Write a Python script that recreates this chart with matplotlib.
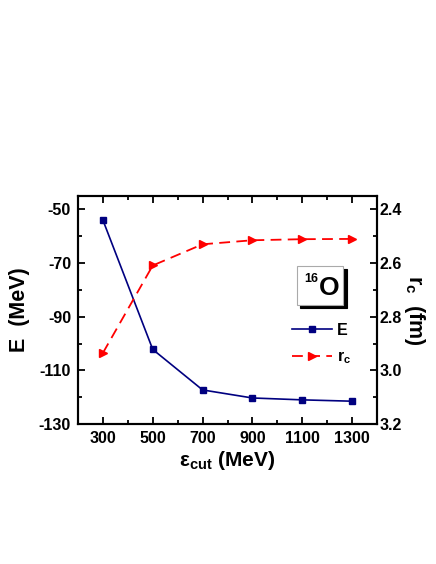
import matplotlib
matplotlib.use("Agg")
import matplotlib.pyplot as plt
from matplotlib.patches import Rectangle
from matplotlib.ticker import MultipleLocator, FormatStrFormatter

# data
ecut = [300, 500, 700, 900, 1100, 1300]
energy = [-54.0, -102.2, -117.3, -120.3, -121.0, -121.5]
rc = [2.935, 2.609, 2.530, 2.515, 2.511, 2.510]

plt.rcParams['font.family'] = ['Liberation Sans', 'DejaVu Sans']
plt.rcParams['font.weight'] = 'bold'
plt.rcParams['axes.unicode_minus'] = False
plt.rcParams['mathtext.fontset'] = 'custom'
plt.rcParams['mathtext.rm'] = 'Liberation Sans:bold'
plt.rcParams['mathtext.it'] = 'Liberation Sans:bold'
plt.rcParams['mathtext.bf'] = 'Liberation Sans:bold'
plt.rcParams['mathtext.sf'] = 'Liberation Sans:bold'

fig = plt.figure(figsize=(4.36, 5.64), dpi=100)
ax = fig.add_axes([78 / 436, 140 / 564, 299 / 436, 228 / 564])
ax2 = ax.twinx()

l1, = ax.plot(ecut, energy, color='#000080', marker='s', ms=4.5, lw=1.2, label='E')
l2, = ax2.plot(ecut, rc, color='#ff0000', marker='>', ms=5.5, lw=1.3,
               dashes=(6, 3.5), label=r'$r_c$')

ax.set_xlim(200, 1400)
ax.set_ylim(-130, -45)
ax2.set_ylim(3.2, 2.35)

ax.xaxis.set_minor_locator(MultipleLocator(100))
ax.set_xticks([300, 500, 700, 900, 1100, 1300])
ax.set_yticks([-130, -110, -90, -70, -50])
ax.yaxis.set_minor_locator(MultipleLocator(10))
ax2.set_yticks([2.4, 2.6, 2.8, 3.0, 3.2])
ax2.yaxis.set_minor_locator(MultipleLocator(0.1))
ax2.yaxis.set_major_formatter(FormatStrFormatter('%.1f'))

for a in (ax, ax2):
    for s in a.spines.values():
        s.set_linewidth(1.5)
ax.tick_params(axis='both', which='major', direction='in', length=5, width=1.3,
               labelsize=11.5, top=True, right=False, pad=5)
ax.tick_params(axis='both', which='minor', direction='in', length=3, width=1.3,
               top=True, right=False)
ax2.tick_params(axis='y', which='major', direction='in', length=5, width=1.3,
                labelsize=11.5, pad=2)
ax2.tick_params(axis='y', which='minor', direction='in', length=3, width=1.3)

ax.set_xlabel('ε$_{cut}$ (MeV)', fontsize=15, fontweight='bold', labelpad=2)
ax.set_ylabel('E  (MeV)', fontsize=15.5, fontweight='bold', labelpad=6)
ax2.set_ylabel(r'$r_c$  (fm)', fontsize=15.5, fontweight='bold', rotation=270,
               labelpad=18)

# 16O label box with drop shadow
bx, by, bw, bh = 0.733, 0.522, 0.154, 0.171
ax2.add_patch(Rectangle((bx + 0.011, by - 0.014), bw, bh, transform=ax2.transAxes,
                        facecolor='black', edgecolor='black', lw=0.8, zorder=5))
ax2.add_patch(Rectangle((bx, by), bw, bh, transform=ax2.transAxes,
                        facecolor='white', edgecolor='#aaaaaa', lw=0.8, zorder=6))
ax2.text(0.807, 0.566, 'O', transform=ax2.transAxes, fontsize=19,
         fontweight='bold', zorder=7)
ax2.text(0.757, 0.622, '16', transform=ax2.transAxes, fontsize=9,
         fontweight='bold', zorder=7)

leg = ax2.legend([l1, l2], ['E', r'$r_c$'], loc='upper left',
                 bbox_to_anchor=(0.715, 0.445), frameon=False, fontsize=11.5,
                 handlelength=2.5, labelspacing=0.75, handletextpad=0.3,
                 borderpad=0, borderaxespad=0)

fig.savefig('out.png', dpi=100)
